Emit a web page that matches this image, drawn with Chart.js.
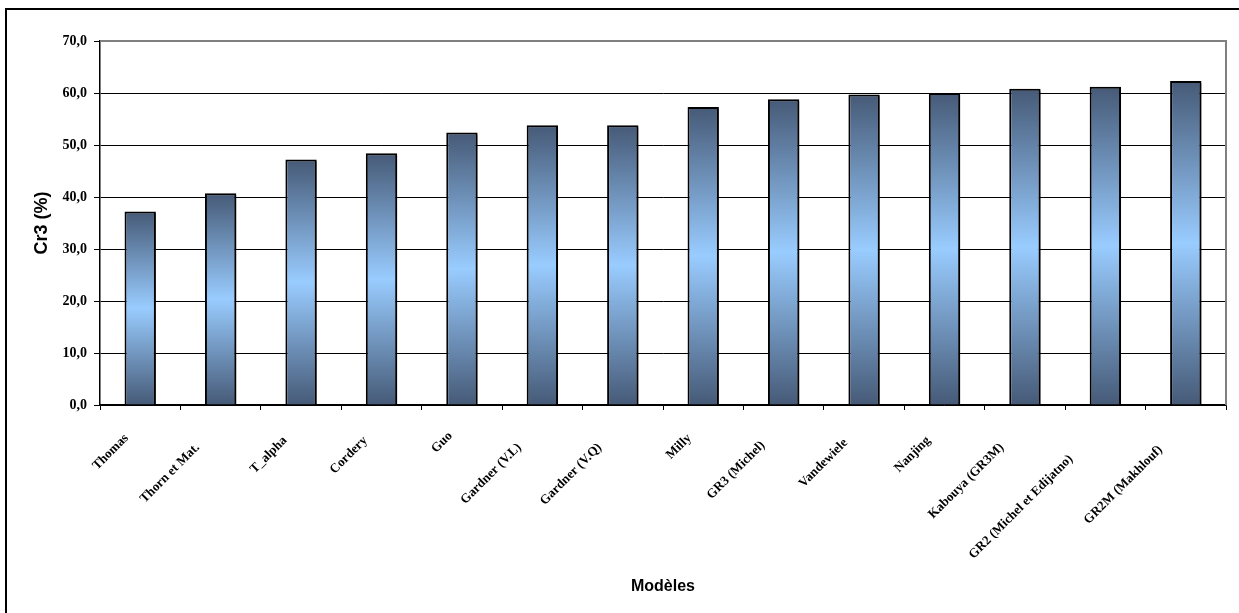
<!DOCTYPE html>
<html lang="fr">
<head>
    <meta charset="UTF-8">
    <title>Cr3 (%) par modèle</title>
    <script src="https://cdn.jsdelivr.net/npm/chart.js"></script>
    <style>
        body { margin: 0; background: #fff; }
        canvas { display: block; }
    </style>
</head>
<body>
    <canvas id="cr3Chart" width="1239" height="613"></canvas>
    <script>
        const models = ['Thomas', 'Thorn et Mat.', 'T_alpha', 'Cordery', 'Guo', 'Gardner (V.L)', 'Gardner (V.Q)',
            'Milly', 'GR3 (Michel)', 'Vandewiele', 'Nanjing', 'Kabouya (GR3M)', 'GR2 (Michel et Edijatno)', 'GR2M (Makhlouf)'];
        const cr3 = [37.2, 40.7, 47.2, 48.4, 52.4, 53.8, 53.8, 57.3, 58.8, 59.7, 60.0, 60.8, 61.2, 62.3];
        const yTicks = [0, 10, 20, 30, 40, 50, 60, 70];

        // vertical gradient per bar: dark at both ends, light blue in the middle
        function barGradient(c) {
            const chart = c.chart;
            if (!chart.chartArea) return '#7fa6d0';
            const y = chart.scales.y;
            const top = y.getPixelForValue(c.raw);
            const bottom = y.getPixelForValue(0);
            const g = chart.ctx.createLinearGradient(0, top, 0, bottom);
            g.addColorStop(0, '#465a77');
            g.addColorStop(0.5, '#99ccff');
            g.addColorStop(1, '#465a77');
            return g;
        }

        const framePlugin = {
            id: 'frame',
            beforeDraw(chart) {
                const ctx = chart.ctx;
                ctx.save();
                ctx.fillStyle = '#fff';
                ctx.fillRect(0, 0, chart.width, chart.height);
                ctx.strokeStyle = '#000';
                ctx.lineWidth = 2;
                ctx.strokeRect(6, 9, chart.width + 20, chart.height + 20);
                ctx.restore();
            },
            beforeDatasetsDraw(chart) {
                const a = chart.chartArea, ctx = chart.ctx;
                ctx.save();
                ctx.strokeStyle = '#808080';
                ctx.lineWidth = 2;
                ctx.beginPath();
                ctx.moveTo(a.left, a.top);
                ctx.lineTo(a.right, a.top);
                ctx.lineTo(a.right, a.bottom);
                ctx.stroke();
                ctx.restore();
                ctx.save();
                ctx.shadowColor = 'rgba(0,0,0,0.45)';
                ctx.shadowOffsetX = 3;
                ctx.shadowOffsetY = 2;
            },
            afterDatasetsDraw(chart) {
                chart.ctx.restore();
            }
        };

        new Chart(document.getElementById('cr3Chart'), {
            type: 'bar',
            data: {
                labels: models,
                datasets: [{
                    label: 'Cr3 (%)',
                    data: cr3,
                    backgroundColor: barGradient,
                    borderColor: '#000',
                    borderWidth: 2,
                    barPercentage: 0.39,
                    categoryPercentage: 1
                }]
            },
            options: {
                responsive: false,
                devicePixelRatio: 1,
                animation: false,
                layout: { padding: { left: 0, top: 41, right: 13, bottom: 0 } },
                plugins: { legend: { display: false }, tooltip: { enabled: false } },
                scales: {
                    x: {
                        afterFit: s => { s.height = 208; },
                        grid: { display: true, drawOnChartArea: false, offset: true, color: '#000', tickLength: 5 },
                        border: { color: '#000', width: 1.5 },
                        ticks: {
                            autoSkip: false,
                            maxRotation: 45,
                            minRotation: 45,
                            padding: 7,
                            color: '#000',
                            font: { family: 'Liberation Serif', weight: 'bold', size: 13 },
                            // trailing spaces push the label down-left along its slope, like the original
                            callback: function (v) {
                                const t = this.getLabelForValue(v);
                                return t + ' '.repeat(Math.round(t.length * 0.5 + 3.4));
                            }
                        },
                        title: {
                            display: true, text: 'Modèles', color: '#000',
                            font: { family: 'Liberation Sans', weight: 'bold', size: 16 },
                            padding: { top: 0, bottom: 17 }
                        }
                    },
                    y: {
                        min: 0,
                        max: 70,
                        afterFit: s => { s.width = 100; },
                        afterBuildTicks: s => { s.ticks = yTicks.map(v => ({ value: v })); },
                        grid: {
                            color: c => (c.tick && c.tick.value === 70 ? '#808080' : '#000'),
                            tickColor: '#000',
                            lineWidth: 1,
                            tickLength: 6
                        },
                        border: { color: '#000', width: 1.5 },
                        ticks: {
                            padding: 7,
                            color: '#000',
                            font: { family: 'Liberation Serif', weight: 'bold', size: 14 },
                            callback: v => v.toFixed(1).replace('.', ',')
                        },
                        title: {
                            display: true, text: 'Cr3 (%)', color: '#000',
                            font: { family: 'Liberation Sans', weight: 'bold', size: 18 },
                            padding: { top: 31, bottom: 0 }
                        }
                    }
                }
            },
            plugins: [framePlugin]
        });
    </script>
</body>
</html>
